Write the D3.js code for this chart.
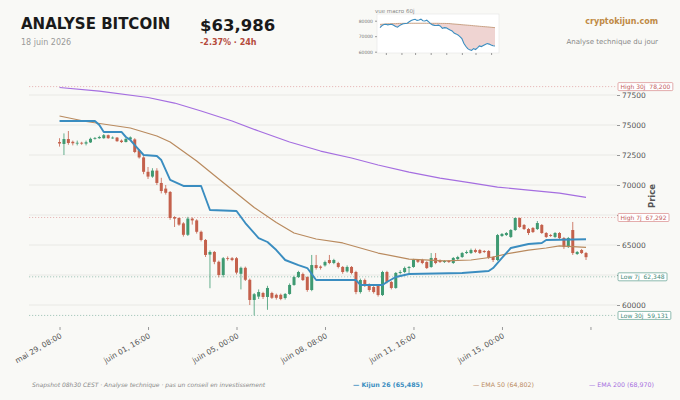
<!DOCTYPE html>
<html>
<head>
<meta charset="utf-8">
<script src="https://cdn.jsdelivr.net/npm/d3@7"></script>
<style>
	body { margin: 0; background: #f9f9f6; }
	svg { display: block; font-family: "DejaVu Sans", sans-serif; }
</style>
</head>
<body>
<div id="chart"></div>
<script>
// 4h candles, mai 29 08:00 -> juin 18 04:00
var opens = [
	73580, 73420, 73830, 73600, 73480, 73520, 73450, 73550, 73850, 73900,
	73900, 74150, 73900, 73950, 73700, 73580, 73800, 73800, 72900, 72300,
	71100, 70700, 71200, 70170, 69700, 69420, 67330, 67250, 66800, 65850,
	67200, 67050, 66100, 65420, 64200, 64420, 63600, 62500, 63900, 63900,
	63900, 62600, 63100, 62100, 60420, 60700, 61000, 60670, 61000, 60850,
	60850, 60580, 60920, 61670, 62330, 62580, 62330, 61250, 63330, 63200,
	63300, 63750, 63500, 63500, 63170, 62800, 63170, 62750, 61080, 62080,
	61670, 61500, 61670, 60830, 62750, 61920, 61420, 62670, 62750, 63080,
	63170, 63750, 63750, 63580, 63170, 63920, 63700, 63580, 63670, 63500,
	63830, 64000, 64330, 64330, 64580, 64580, 64500, 64500, 64000, 63750,
	65750, 65830, 65670, 66250, 67250, 66670, 66330, 66420, 66330, 66670,
	66000, 65830, 65670, 66000, 65580, 64830, 66250, 64250, 64580, 64330
];
var highs = [
	73900, 74300, 74500, 73700, 73700, 73600, 73700, 73950, 74000, 74100,
	74250, 74200, 74050, 74000, 73800, 73900, 74050, 73900, 73000, 72400,
	71500, 71400, 71400, 70600, 70000, 69500, 67400, 67300, 66900, 67350,
	67300, 67150, 66200, 65500, 64550, 64500, 63700, 64000, 64050, 64000,
	64000, 63200, 63200, 62200, 61000, 61300, 61100, 61600, 61100, 60950,
	60950, 61000, 61800, 62450, 62850, 62700, 62400, 64170, 64170, 63300,
	63700, 64170, 63850, 63600, 63250, 63300, 63250, 62850, 62200, 62200,
	61800, 61600, 61750, 62850, 62850, 62000, 62750, 62900, 63200, 63250,
	63850, 63800, 63850, 63650, 64330, 64330, 63800, 63750, 63750, 64000,
	64100, 64420, 64550, 64700, 64700, 64670, 64580, 64580, 64080, 65920,
	66000, 66080, 66330, 67292, 67292, 66750, 66420, 66500, 67000, 66750,
	66080, 65920, 66080, 66080, 65670, 65670, 66920, 64500, 64670, 64420
];
var lows = [
	73200, 72500, 73350, 73300, 73300, 73350, 73300, 73500, 73780, 73850,
	73850, 73850, 73850, 73600, 73500, 73550, 73750, 72650, 72200, 70900,
	70500, 70600, 70000, 69300, 69200, 67100, 66500, 66600, 65700, 65750,
	66700, 65950, 65300, 64000, 61400, 63400, 62300, 62300, 63700, 63650,
	62550, 61300, 62000, 60000, 59131, 60500, 60500, 59600, 60500, 60450,
	60400, 60450, 60850, 61600, 62250, 62000, 61100, 61150, 62950, 62950,
	63200, 63400, 63400, 63050, 62600, 62700, 62550, 60900, 60950, 61500,
	61100, 60950, 60700, 60750, 61800, 61300, 61350, 62550, 62650, 62650,
	63100, 63500, 63400, 63000, 63100, 63400, 63500, 63500, 63500, 63420,
	63750, 63920, 64250, 64250, 64330, 64250, 64330, 63830, 63580, 63670,
	65670, 65750, 65580, 66170, 66420, 66250, 65830, 66000, 66250, 65920,
	65580, 65670, 65580, 65500, 64670, 64750, 64170, 64170, 64250, 63750
];
var closes = [
	73460, 73830, 73500, 73480, 73520, 73450, 73560, 73850, 73920, 74000,
	74150, 73900, 73950, 73650, 73580, 73850, 73970, 72750, 72300, 71100,
	70700, 71200, 70170, 69500, 69350, 67250, 67200, 66700, 65850, 67200,
	67050, 66100, 65420, 64170, 64420, 63600, 62500, 63900, 63850, 63750,
	62700, 63100, 62100, 60420, 60900, 61080, 60670, 61420, 60600, 60600,
	60500, 60920, 61670, 62330, 62750, 62080, 61250, 63330, 63080, 63100,
	63580, 63500, 63750, 63170, 62750, 63170, 62670, 61080, 62080, 61670,
	61250, 61080, 60830, 62750, 61920, 61420, 62670, 62750, 63080, 63170,
	63750, 63600, 63500, 63080, 63920, 63500, 63580, 63670, 63580, 63920,
	64000, 64330, 64420, 64580, 64420, 64330, 64420, 63920, 63750, 65830,
	65920, 66000, 66250, 67250, 66500, 66330, 66000, 66080, 66830, 66000,
	65670, 65750, 66000, 65580, 64830, 65580, 64330, 64420, 64330, 63986
];

// indicator lines, read at candle indexes
var kijunIdx = [0, 8, 9, 10, 14, 15, 16, 17, 19, 22, 23, 25, 28, 32, 34, 40, 42, 45, 47, 49, 51, 54, 56, 58, 67, 68, 73, 74, 76, 79, 91, 97, 98, 100, 102, 106, 109, 110, 119];
var kijunVal = [75330, 75330, 75000, 74420, 74420, 74000, 73750, 73330, 72500, 72420, 72080, 70420, 69920, 69920, 67920, 67830, 66830, 65580, 65250, 64580, 63750, 63330, 63080, 62080, 62080, 61670, 61670, 61920, 62330, 62580, 62670, 62830, 63080, 63920, 64750, 65080, 65170, 65420, 65485];
var ema50Idx = [0, 6, 16, 22, 25, 31, 36, 44, 49, 53, 58, 64, 72, 79, 87, 93, 98, 102, 106, 110, 113, 119];
var ema50Val = [75750, 75290, 74750, 74080, 73580, 72000, 70500, 68125, 66875, 66000, 65500, 65170, 64330, 63830, 63670, 63750, 64000, 64330, 64580, 64750, 64920, 64802];
var ema200Idx = [0, 9, 20, 26, 32, 39, 45, 52, 59, 66, 72, 79, 86, 93, 99, 106, 113, 119];
var ema200Val = [78125, 77830, 77290, 76830, 76170, 75330, 74500, 73580, 72830, 72250, 71670, 71080, 70580, 70170, 69830, 69580, 69330, 68970];

// support / resistance levels
var levelNames = ['High 30j', 'High 7j', 'Low 7j', 'Low 30j'];
var levelValues = [78200, 67292, 62348, 59131];

// axis ticks (67500 and 62500 sit under the level boxes, no label shown)
var yTicks = [60000, 62500, 65000, 67500, 70000, 72500, 75000, 77500];
var yTickLabels = ['60000', '', '65000', '', '70000', '72500', '75000', '77500'];
var xTickHours = [0, 80, 160, 240, 320, 400, 480];
var xTickLabels = ['mai 29, 08:00', 'juin 01, 16:00', 'juin 05, 00:00', 'juin 08, 08:00', 'juin 11, 16:00', 'juin 15, 00:00', ''];

// mini chart, 60 daily points
var macroPrice = [
	75500, 76800, 77600, 77700, 77300, 77500, 77700, 77000, 76300, 75800,
	76800, 77600, 78000, 78200, 78400, 79300, 80100, 80600, 80900, 80200,
	80500, 81000, 80000, 79800, 80300, 79200, 78000, 77300, 77000, 76900,
	77100, 76500, 75000, 75500, 75400, 74700, 74000, 73400, 72000, 71500,
	70800, 69700, 68500, 65500, 63500, 62000, 61200, 60800, 62000, 61400,
	62500, 63700, 63300, 64000, 64700, 65300, 64900, 64300, 63800, 63700
];
var macroEma = [
	77600, 77700, 77800, 77900, 78000, 78000, 78100, 78100, 78100, 78200,
	78250, 78250, 78300, 78300, 78300, 78300, 78350, 78350, 78350, 78350,
	78350, 78350, 78350, 78350, 78350, 78300, 78300, 78300, 78300, 78300,
	78300, 78250, 78250, 78250, 78200, 78200, 78100, 77950, 77850, 77750,
	77650, 77550, 77400, 77300, 77200, 77100, 77000, 76900, 76750, 76650,
	76550, 76400, 76300, 76200, 76100, 76000, 75900, 75750, 75650, 75500
];
var macroYTicks = [60000, 70000, 80000];
var macroXTicks = [3, 11, 18, 26, 34, 42, 49, 57];

var svgWidth = 680,
	svgHeight = 400;

var plot = { left: 29, right: 617, top: 77, bottom: 327 };

var upColor = '#3f9a72',
	downColor = '#c4614c',
	kijunColor = '#3a8dc0',
	ema50Color = '#b98a5e',
	ema200Color = '#a56ee0';

var svg = d3.select('#chart')
	.append('svg')
	.attr('width', svgWidth)
	.attr('height', svgHeight);

svg.append('rect')
	.attr('width', svgWidth)
	.attr('height', svgHeight)
	.attr('fill', '#f9f9f6');

// scales
var hour = 3600 * 1000;
var start = Date.UTC(2026, 4, 29, 8);
var timeAt = i => new Date(start + i * 4 * hour);

var x = d3.scaleUtc()
	.domain([new Date(start - 27.6 * hour), new Date(start + 504 * hour)])
	.range([plot.left, plot.right]);
var y = d3.scaleLinear()
	.domain([58167, 79000])
	.range([plot.bottom, plot.top]);

// grid
svg.append('g').selectAll('line')
	.data(yTicks)
	.join('line')
	.attr('x1', plot.left)
	.attr('x2', plot.right)
	.attr('y1', d => y(d))
	.attr('y2', d => y(d))
	.attr('stroke', '#e6e6e2')
	.attr('stroke-width', 0.8);

// level lines
svg.append('g').selectAll('line')
	.data(levelValues)
	.join('line')
	.attr('x1', plot.left)
	.attr('x2', plot.right)
	.attr('y1', d => y(d))
	.attr('y2', d => y(d))
	.attr('stroke', (d, i) => i < 2 ? '#e2a9a9' : '#93bcae')
	.attr('stroke-width', 0.8)
	.attr('stroke-dasharray', '1.2,1.8');

// candles
var bodyW = 3;
var candles = svg.append('g').selectAll('g')
	.data(closes)
	.join('g')
	.attr('transform', (d, i) => `translate(${x(timeAt(i))},0)`);

candles.append('line')
	.attr('y1', (d, i) => y(highs[i]))
	.attr('y2', (d, i) => y(lows[i]))
	.attr('stroke', (d, i) => d >= opens[i] ? upColor : downColor)
	.attr('stroke-width', 0.8);

candles.append('rect')
	.attr('x', -bodyW / 2)
	.attr('width', bodyW)
	.attr('y', (d, i) => y(Math.max(d, opens[i])))
	.attr('height', (d, i) => Math.max(0.8, Math.abs(y(d) - y(opens[i]))))
	.attr('fill', (d, i) => d >= opens[i] ? upColor : downColor);

// indicator lines
function drawLine(idx, vals, color, width) {
	var line = d3.line()
		.x(d => x(timeAt(d[0])))
		.y(d => y(d[1]));
	svg.append('path')
		.datum(idx.map((d, i) => [d, vals[i]]))
		.attr('d', line)
		.attr('fill', 'none')
		.attr('stroke', color)
		.attr('stroke-width', width)
		.attr('stroke-linejoin', 'round');
}
drawLine(ema200Idx, ema200Val, ema200Color, 1.2);
drawLine(ema50Idx, ema50Val, ema50Color, 1.2);
drawLine(kijunIdx, kijunVal, kijunColor, 1.9);

// right y axis
var yAxis = svg.append('g')
	.attr('transform', `translate(${plot.right},0)`)
	.call(d3.axisRight(y).tickValues(yTicks).tickSize(3).tickPadding(2).tickFormat((d, i) => yTickLabels[i]));
yAxis.select('.domain').remove();
yAxis.selectAll('line').attr('stroke', '#999');
yAxis.attr('font-family', '"DejaVu Sans", sans-serif').attr('font-size', 7.5);
yAxis.selectAll('text').attr('fill', '#555');

// bottom x axis
var xAxis = svg.append('g')
	.attr('transform', `translate(0,${plot.bottom})`)
	.call(d3.axisBottom(x)
		.tickValues(xTickHours.map(h => new Date(start + h * hour)))
		.tickSize(3)
		.tickFormat((d, i) => xTickLabels[i]));
xAxis.select('.domain').remove();
xAxis.selectAll('line').attr('stroke', '#999');
xAxis.attr('font-family', '"DejaVu Sans", sans-serif').attr('font-size', 7.5);
xAxis.selectAll('text')
	.attr('fill', '#555')
	.attr('y', 0)
	.attr('dy', '0.35em')
	.attr('text-anchor', 'end')
	.attr('transform', 'translate(1,8) rotate(-30)');

// y label
svg.append('text')
	.attr('transform', `translate(655,196) rotate(-90)`)
	.attr('text-anchor', 'middle')
	.attr('font-size', 8.5)
	.attr('font-weight', 'bold')
	.attr('fill', '#555')
	.text('Price');

// level labels
var fmt = d3.format(',');
var labels = svg.append('g').selectAll('g')
	.data(levelValues)
	.join('g')
	.attr('transform', d => `translate(${plot.right + 1},${y(d)})`);
labels.append('rect')
	.attr('y', -4)
	.attr('height', 8)
	.attr('rx', 1)
	.attr('fill', '#ffffff')
	.attr('stroke', (d, i) => i < 2 ? '#d98a8a' : '#5f9f8f')
	.attr('stroke-width', 0.7);
labels.append('text')
	.attr('x', 2.5)
	.attr('dy', '0.35em')
	.attr('font-size', 6)
	.attr('fill', (d, i) => i < 2 ? '#c25d5d' : '#3f8a78')
	.style('white-space', 'pre')
	.text((d, i) => `${levelNames[i]}  ${fmt(d)}`);
labels.each(function() {
	var g = d3.select(this);
	var w = g.select('text').node().getComputedTextLength();
	g.select('rect').attr('width', w + 5);
});

// header
svg.append('text')
	.attr('x', 21).attr('y', 29)
	.attr('font-size', 15).attr('font-weight', 'bold').attr('fill', '#1a1a1a')
	.text('ANALYSE BITCOIN');
svg.append('text')
	.attr('x', 21).attr('y', 45)
	.attr('font-size', 8).attr('fill', '#999')
	.text('18 juin 2026');
svg.append('text')
	.attr('x', 200).attr('y', 31)
	.attr('font-size', 16.5).attr('font-weight', 'bold').attr('fill', '#1a1a1a')
	.text('$63,986');
svg.append('text')
	.attr('x', 200).attr('y', 45)
	.attr('font-size', 8).attr('font-weight', 'bold').attr('fill', '#b54b3c')
	.text('-2.37% · 24h');
svg.append('text')
	.attr('x', 658).attr('y', 24)
	.attr('text-anchor', 'end')
	.attr('font-size', 8).attr('font-weight', 'bold').attr('fill', '#c08a45')
	.text('cryptokijun.com');
svg.append('text')
	.attr('x', 658).attr('y', 44)
	.attr('text-anchor', 'end')
	.attr('font-size', 7).attr('fill', '#888')
	.text('Analyse technique du jour');

// mini macro chart
var mini = { left: 377, right: 499, top: 14, bottom: 53 };
var mx = d3.scaleLinear().domain([0, macroPrice.length - 1]).range([380, 495]);
var my = d3.scaleLinear().domain([60000, 80000]).range([51.7, 20.7]);

svg.append('rect')
	.attr('x', mini.left).attr('y', mini.top)
	.attr('width', mini.right - mini.left).attr('height', mini.bottom - mini.top)
	.attr('fill', '#ffffff')
	.attr('stroke', '#e4e4e4')
	.attr('stroke-width', 0.6);

svg.append('path')
	.datum(macroPrice)
	.attr('d', d3.area()
		.x((d, i) => mx(i))
		.y0((d, i) => my(macroEma[i]))
		.y1((d, i) => my(Math.min(d, macroEma[i]))))
	.attr('fill', '#e9c6c3')
	.attr('opacity', 0.75);

svg.append('path')
	.datum(macroEma)
	.attr('d', d3.line().x((d, i) => mx(i)).y(d => my(d)))
	.attr('fill', 'none')
	.attr('stroke', '#c9a184')
	.attr('stroke-width', 1);

svg.append('path')
	.datum(macroPrice)
	.attr('d', d3.line().x((d, i) => mx(i)).y(d => my(d)))
	.attr('fill', 'none')
	.attr('stroke', kijunColor)
	.attr('stroke-width', 1.1);

var miniY = svg.append('g')
	.attr('transform', `translate(${mini.left},0)`)
	.call(d3.axisLeft(my).tickValues(macroYTicks).tickSize(2).tickPadding(2).tickFormat(d3.format('d')));
miniY.select('.domain').remove();
miniY.attr('font-family', '"DejaVu Sans", sans-serif').attr('font-size', 4.5);
miniY.selectAll('line').attr('stroke', '#999');
miniY.selectAll('text').attr('fill', '#777');

var miniX = svg.append('g')
	.attr('transform', `translate(0,${mini.bottom})`)
	.call(d3.axisBottom(mx).tickValues(macroXTicks).tickSize(2).tickFormat(''));
miniX.select('.domain').remove();
miniX.selectAll('line').attr('stroke', '#999');

svg.append('text')
	.attr('x', mini.left - 2).attr('y', 13)
	.attr('font-size', 5.5).attr('fill', '#888')
	.text('vue macro 60j');

// footer and legend
svg.append('text')
	.attr('x', 32).attr('y', 387)
	.attr('font-size', 6).attr('font-style', 'italic').attr('fill', '#888')
	.text('Snapshot 08h30 CEST · Analyse technique · pas un conseil en investissement');

var legendNames = ['Kijun 26', 'EMA 50', 'EMA 200'];
var legendValues = [65485, 64802, 68970];
var legendColors = [kijunColor, ema50Color, ema200Color];
var legendX = [353, 473, 589];

svg.append('g').selectAll('text')
	.data(legendNames)
	.join('text')
	.attr('x', (d, i) => legendX[i])
	.attr('y', 387)
	.attr('font-size', 6.3)
	.attr('font-weight', (d, i) => i === 0 ? 'bold' : 'normal')
	.attr('fill', (d, i) => legendColors[i])
	.text((d, i) => `— ${d} (${fmt(legendValues[i])})`);
</script>
</body>
</html>
